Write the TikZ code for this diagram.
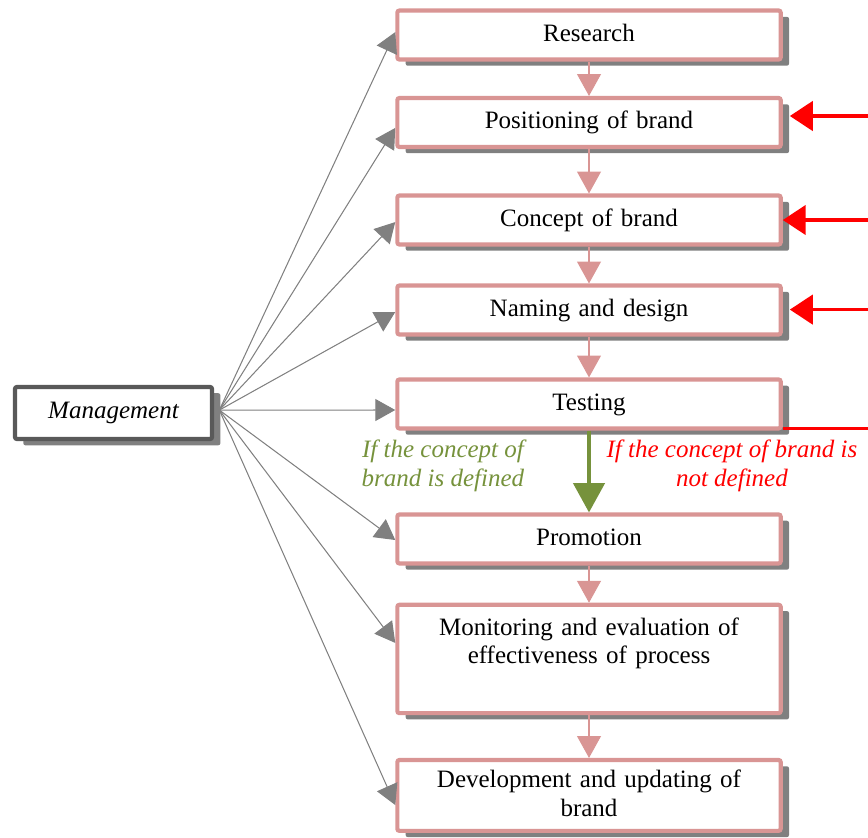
\documentclass[tikz,border=0pt]{standalone}
\usepackage{fontspec}
\setmainfont{Liberation Serif}
\usepackage{tikz}
\usetikzlibrary{shapes.geometric, arrows.meta, shadows}
\definecolor{boxpink}{HTML}{D99594}
\definecolor{mgmtgray}{HTML}{595959}
\definecolor{okgreen}{HTML}{76923C}
\newcommand{\boxfont}{\fontsize{12pt}{13.8pt}\selectfont}
\tikzstyle{stage} = [rectangle, rounded corners=1pt,
minimum width=184pt,
minimum height=23.5pt,
text width=176pt,
text height=9pt,
text depth=3pt,
inner sep=4pt,
text centered,
line width=2pt,
draw=boxpink,
fill=white,
drop shadow={shadow xshift=4pt, shadow yshift=-3pt, fill=gray, opacity=1}]
\tikzstyle{manager} = [rectangle, rounded corners=1pt,
minimum width=94.6pt,
minimum height=25pt,
line width=2pt,
draw=mgmtgray,
fill=white,
font=\boxfont\itshape,
drop shadow={shadow xshift=4pt, shadow yshift=-3pt, fill=gray, opacity=1}]
\tikzstyle{cond} = [align=center, font=\boxfont\itshape]
\tikzstyle{link} = [draw=gray, line width=0.5pt, -{Triangle[length=9.6pt, width=10.6pt]}]
\tikzstyle{flow} = [draw=boxpink, line width=0.5pt, -{Triangle[length=10.5pt, width=11.5pt]}]
\tikzstyle{yes} = [draw=okgreen, line width=1.5pt, -{Triangle[length=14pt, width=15pt]}]
\tikzstyle{back} = [draw=red, line width=1.8pt, -{Triangle[length=11pt, width=14pt]}]
\tikzstyle{back line} = [draw=red, line width=1.8pt]

\begin{document}
\begin{tikzpicture} [font=\boxfont]
		\useasboundingbox (0,0) rectangle (416.64pt,-401.76pt);
		\node (res) [stage, xshift=282.72pt, yshift=-16.8pt] {Research};
		\node (pos) [stage, below of=res, node distance=42pt] {Positioning of brand};
		\node (conc) [stage, below of=pos, node distance=46.8pt] {Concept of brand};
		\node (name) [stage, below of=conc, node distance=43.2pt] {Naming and design};
		\node (test) [stage, below of=name, node distance=45.1pt] {Testing};
		\node (promo) [stage, below of=test, node distance=64.8pt] {Promotion};
		\node (mon) [stage, below of=promo, node distance=57.6pt, text height=10.5pt, text depth=33.5pt] {Monitoring and evaluation of\\effectiveness of process};
		\node (dev) [stage, below of=mon, node distance=65.5pt, minimum height=34pt, text depth=16.8pt] {Development and updating of\\brand};
		\node (mgmt) [manager, xshift=54.48pt, yshift=-198.24pt] {Management};
		\node (yeslbl) [cond, text=okgreen, below of=test, node distance=29.8pt, xshift=-70.1pt] {If the concept of\\brand is defined};
		\node (nolbl) [cond, text=red, below of=test, node distance=29.8pt, xshift=68.6pt] {If the concept of brand is\\not defined};
		% steps of the process
		\draw [flow] (res) -- (pos);
		\draw [flow] (pos) -- (conc);
		\draw [flow] (conc) -- (name);
		\draw [flow] (name) -- (test);
		\draw [yes] (test) -- (promo);
		\draw [flow] (promo) -- (mon);
		\draw [flow] (mon) -- (dev);
		% management reaches every step
		\coordinate (hub) at ([xshift=2.5pt, yshift=1.4pt]mgmt.east);
		\draw [link] (hub) -- ([yshift=1.4pt]res.west);
		\draw [link] (hub) -- ([yshift=-2.6pt]pos.west);
		\draw [link] (hub) -- ([yshift=-1pt]conc.west);
		\draw [link] (hub) -- ([yshift=-1pt]name.west);
		\draw [link] (hub) -- ([yshift=-2.9pt]test.west);
		\draw [link] (hub) -- ([yshift=-0.5pt]promo.west);
		\draw [link] (hub) -- ([yshift=7.7pt]mon.west);
		\draw [link] (hub) -- ([yshift=-4.6pt]dev.west);
		% going back when the concept fails
		\coordinate (r1) at (416.64pt,-55.68pt);
		\coordinate (r2) at (416.64pt,-105.6pt);
		\coordinate (r3) at (416.64pt,-148.6pt);
		\coordinate (r4) at (416.64pt,-205.7pt);
		\draw [back] (r1) -- ([xshift=3.4pt]r1 -| pos.east);
		\draw [back] (r2) -- (r2 -| conc.east);
		\draw [back] (r3) -- ([xshift=3.4pt]r3 -| name.east);
		\draw [back line] (r4) -- (r4 -| test.east);
	\end{tikzpicture}
\end{document}
